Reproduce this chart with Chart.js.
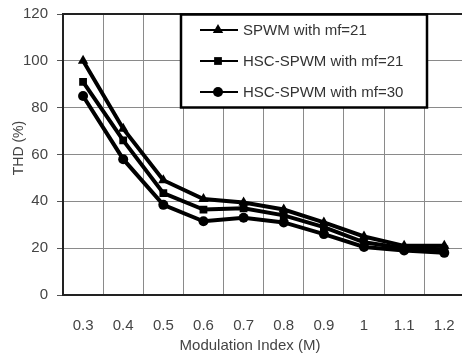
<!DOCTYPE html>
<html>
<head>
<meta charset="utf-8">
<script src="https://cdn.jsdelivr.net/npm/chart.js@4"></script>
<style>
  html, body { margin: 0; padding: 0; background: #fff; overflow: hidden; }
  #wrap { width: 477px; height: 354px; overflow: hidden; }
</style>
</head>
<body>
<div id="wrap"><canvas id="chart" width="477" height="354"></canvas></div>
<script>
// データ
const labels = ["0.3", "0.4", "0.5", "0.6", "0.7", "0.8", "0.9", "1", "1.1", "1.2"];
const spwm21 = [100, 71, 49, 41, 39.5, 36.5, 31, 25, 21, 21];
const hsc21 = [91, 66, 43.5, 36.5, 37, 34, 29, 22.5, 20, 19.5];
const hsc30 = [85, 58, 38.5, 31.5, 33, 31, 26, 20.5, 19, 18];
const yTicks = [0, 20, 40, 60, 80, 100, 120];

const seriesNames = ["SPWM with mf=21", "HSC-SPWM with mf=21", "HSC-SPWM with mf=30"];
const markers = ["triangle", "rect", "circle"];
const markerSizes = [6, 5.5, 5];

const FONT = "'Liberation Sans', Arial, sans-serif";

// 凡例をプロット内に描くプラグイン
const boxLegend = {
    id: "boxLegend",
    afterDraw(chart) {
        const ctx = chart.ctx;
        const a = chart.chartArea;
        const x0 = a.left + 118, y0 = a.top, w = 246, h = 93;
        ctx.save();
        ctx.fillStyle = "#fff";
        ctx.fillRect(x0, y0, w, h);
        ctx.strokeStyle = "#000";
        ctx.lineWidth = 2.5;
        ctx.strokeRect(x0, y0 + 0.5, w, h);
        ctx.font = "15px " + FONT;
        ctx.textBaseline = "middle";
        chart.data.datasets.forEach((ds, i) => {
            const yy = y0 + 16 + i * 31;
            ctx.strokeStyle = "#000";
            ctx.lineWidth = 2;
            ctx.beginPath();
            ctx.moveTo(x0 + 19, yy);
            ctx.lineTo(x0 + 57, yy);
            ctx.stroke();
            ctx.fillStyle = "#000";
            Chart.helpers.drawPoint(ctx, { pointStyle: ds.pointStyle, radius: ds.pointRadius, borderWidth: 0 }, x0 + 37, yy);
            ctx.fillStyle = "#333";
            ctx.fillText(ds.label, x0 + 62, yy + 1);
        });
        // 軸タイトル
        ctx.fillStyle = "#444";
        ctx.textAlign = "center";
        ctx.textBaseline = "alphabetic";
        ctx.fillText("Modulation Index (M)", a.left + 187, 350);
        ctx.translate(19, a.top + 134);
        ctx.rotate(-Math.PI / 2);
        ctx.font = "14px " + FONT;
        ctx.textBaseline = "middle";
        ctx.fillText("THD (%)", 0, 0);
        ctx.restore();
    }
};

// プロット枠（上・左・下）
const frame = {
    id: "frame",
    beforeDatasetsDraw(chart) {
        const ctx = chart.ctx;
        const a = chart.chartArea;
        ctx.save();
        ctx.strokeStyle = "#222";
        ctx.lineWidth = 2;
        ctx.beginPath();
        ctx.moveTo(a.right + 5, a.top);
        ctx.lineTo(a.left, a.top);
        ctx.lineTo(a.left, a.bottom);
        ctx.lineTo(a.right + 5, a.bottom);
        ctx.stroke();
        ctx.restore();
    }
};

const datasets = [spwm21, hsc21, hsc30].map((d, i) => ({
    label: seriesNames[i],
    data: d,
    borderColor: "#000",
    backgroundColor: "#000",
    borderWidth: 4,
    pointStyle: markers[i],
    pointRadius: markerSizes[i],
    pointBorderWidth: 0,
    pointBackgroundColor: "#000",
    tension: 0,
    fill: false
}));

new Chart(document.getElementById("chart"), {
    type: "line",
    data: { labels: labels, datasets: datasets },
    plugins: [frame, boxLegend],
    options: {
        responsive: false,
        animation: false,
        layout: { padding: { top: 0, right: 5, left: 0, bottom: 0 } },
        plugins: { legend: { display: false }, tooltip: { enabled: false } },
        scales: {
            x: {
                type: "category",
                offset: true,
                grid: { offset: true, color: "#8a8a8a", lineWidth: 1, drawTicks: false },
                border: { display: false },
                ticks: { color: "#444", font: { family: FONT, size: 15 }, padding: 22, maxRotation: 0 },
                afterFit(s) { s.height = 59; }
            },
            y: {
                min: 0,
                max: 120,
                afterBuildTicks(s) { s.ticks = yTicks.map(v => ({ value: v })); },
                grid: { color: "#8a8a8a", lineWidth: 1, tickLength: 6, tickColor: "#555" },
                border: { display: false },
                ticks: { color: "#444", font: { family: FONT, size: 15 }, padding: 9 },
                afterFit(s) { s.width = 63; s.paddingTop = 14; s.paddingBottom = 0; }
            }
        }
    }
});
</script>
</body>
</html>
